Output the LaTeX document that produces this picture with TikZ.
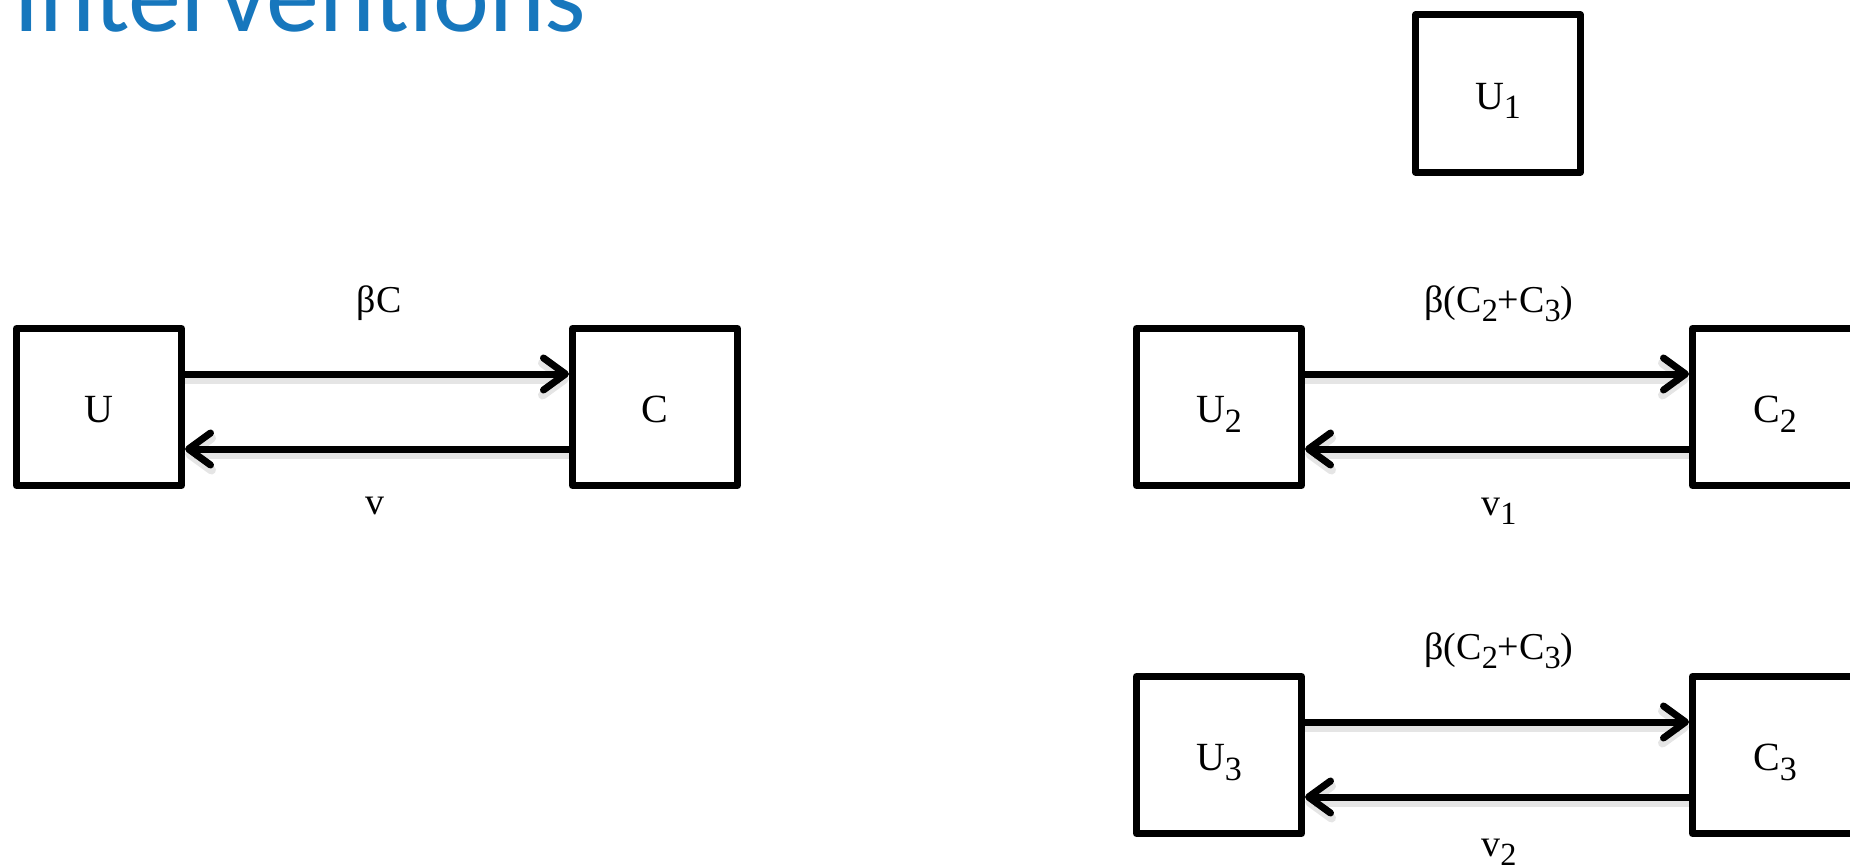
\documentclass[tikz,border=0pt]{standalone}
\usepackage{fontspec}
\usepackage{graphicx}
\setmainfont{Liberation Serif}
\newfontfamily\titlefont{Carlito}
\usetikzlibrary{arrows.meta}
\definecolor{titleblue}{RGB}{23,119,189}
\newcommand\sbs[1]{\raisebox{-0.24em}{\scalebox{0.85}{#1}}}
\begin{document}
\begin{tikzpicture}[x=1pt,y=-1pt,
  box/.style={draw=black, line width=7pt, line join=round, rectangle,
    minimum width=165pt, minimum height=157pt, inner sep=0pt,
    text height=31pt, text depth=0pt, font=\fontsize{40}{44}\selectfont},
  flow/.style={line width=7pt, -{Straight Barb[length=22pt,width=32pt,round]}},
  flowshadow/.style={line width=9pt, black, opacity=0.10,
    -{Straight Barb[length=22pt,width=32pt,round]}},
  lab/.style={anchor=base, inner sep=0pt, font=\fontsize{38}{42}\selectfont},
  title/.style={anchor=base west, inner sep=0pt, text=titleblue,
    font=\titlefont\fontsize{106}{110}\selectfont}]
\useasboundingbox (0,0) rectangle (1850,867);
\fill[white] (0,0) rectangle (1850,867);

\node[title] (ttl) at (13,32) {Interventions};

% left model
\node[box] (U) at (99,407) {U};
\node[box] (C) at (655,407) {C};

% right model
\node[box] (U1) at (1498,93.5) {U\sbs{1}};
\node[box] (U2) at (1219,407) {U\sbs{2}};
\node[box] (C2) at (1775,407) {C\sbs{2}};
\node[box] (U3) at (1219,755) {U\sbs{3}};
\node[box] (C3) at (1775,755) {C\sbs{3}};

% shadows
\foreach \a/\b in {U/C,U2/C2,U3/C3}{
  \draw[flowshadow] ([yshift=28pt]\a.east) -- ([yshift=28pt]\b.west);
  \draw[flowshadow] ([yshift=-47pt]\b.west) -- ([yshift=-47pt]\a.east);
}
% arrows
\foreach \a/\b in {U/C,U2/C2,U3/C3}{
  \draw[flow] ([yshift=33pt]\a.east) -- ([yshift=33pt]\b.west);
  \draw[flow] ([yshift=-42pt]\b.west) -- ([yshift=-42pt]\a.east);
}

% labels
\node[lab] (l1) at (379,312) {βC};
\node[lab] (l2) at (375,514) {v};
\node[lab] (l3) at (1499,312) {β(C\sbs{2}+C\sbs{3})};
\node[lab] (l4) at (1499,515) {v\sbs{1}};
\node[lab] (l5) at (1499,659) {β(C\sbs{2}+C\sbs{3})};
\node[lab] (l6) at (1499,856) {v\sbs{2}};
\end{tikzpicture}
\end{document}
